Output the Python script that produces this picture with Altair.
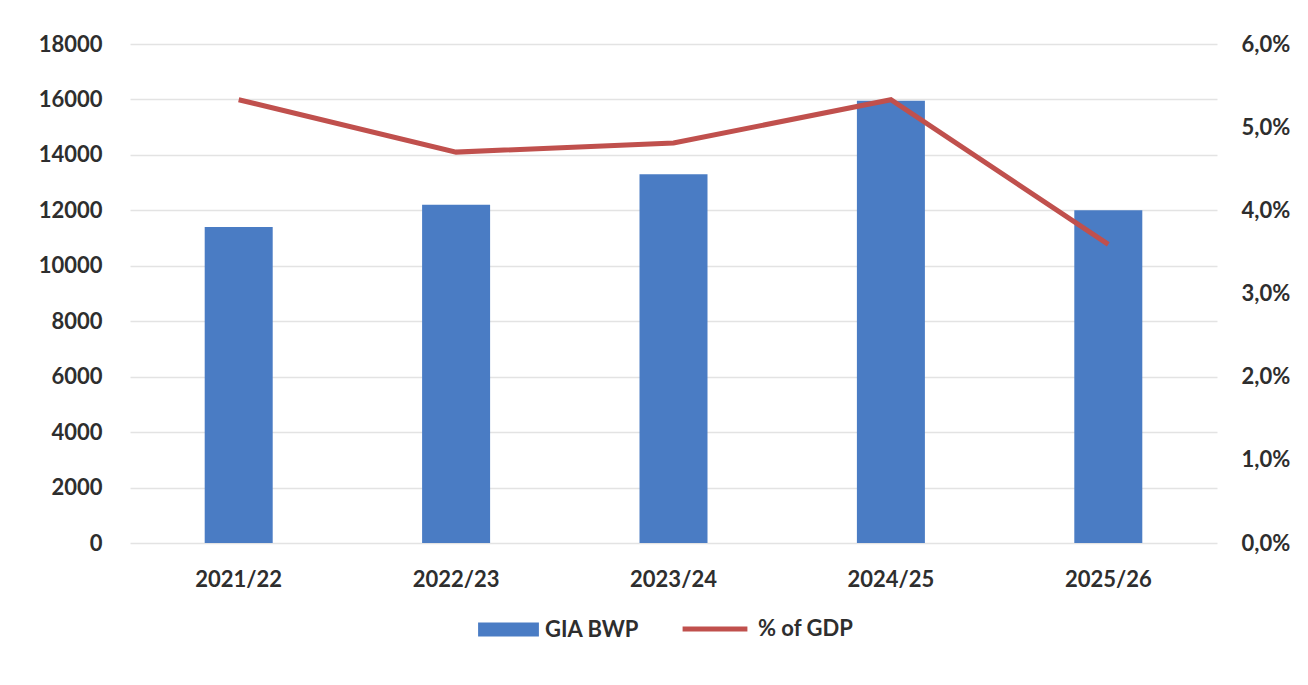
import altair as alt
import pandas as pd

years = ["2021/22", "2022/23", "2023/24", "2024/25", "2025/26"]
gia_bwp = [11400, 12200, 13300, 15950, 12000]
pct_gdp = [5.33, 4.70, 4.81, 5.33, 3.59]

df = pd.DataFrame({
    "year": years,
    "gia": gia_bwp,
    "pct": pct_gdp,
    "s1": ["GIA BWP"] * len(years),
    "s2": ["% of GDP"] * len(years),
})

FONT = "Lato"
TXT = "#2e2e2e"
BLUE = "#4a7cc4"
RED = "#c0504d"
FS = 22
FW = "bold"

x_enc = alt.X("year:N", sort=years, title=None,
              axis=alt.Axis(labelAngle=0, labelFontSize=FS, labelFont=FONT, labelColor=TXT,
                            labelFontWeight=FW,
                            ticks=False, domain=False, labelPadding=26, grid=False))

bars = alt.Chart(df).mark_bar(size=68).encode(
    x=x_enc,
    y=alt.Y("gia:Q", title=None,
            scale=alt.Scale(domain=[0, 18000], nice=False),
            axis=alt.Axis(values=list(range(0, 18001, 2000)), format="d", ticks=False, domain=False,
                          labelFontSize=FS, labelFont=FONT, labelColor=TXT, labelFontWeight=FW,
                          labelPadding=28, gridColor="#e3e3e3", gridWidth=1.5)),
    color=alt.Color("s1:N", scale=alt.Scale(domain=["GIA BWP"], range=[BLUE]),
                    legend=alt.Legend(title=None, orient="none", legendX=348, legendY=555,
                                      symbolType="M-1,-0.23H1V0.23H-1Z", symbolSize=3700,
                                      symbolStrokeWidth=0, labelFontSize=FS, labelFont=FONT,
                                      labelFontWeight=FW,
                                      labelColor=TXT, padding=0, labelOffset=6)),
)

line = alt.Chart(df).mark_line(strokeWidth=5).encode(
    x=x_enc,
    y=alt.Y("pct:Q", title=None,
            scale=alt.Scale(domain=[0, 6], nice=False),
            axis=alt.Axis(orient="right", values=[0, 1, 2, 3, 4, 5, 6], grid=False, ticks=False,
                          domain=False, labelFontSize=FS, labelFont=FONT, labelColor=TXT,
                          labelFontWeight=FW, labelPadding=24,
                          labelExpr="replace(format(datum.value, '.1f'), '.', ',') + '%'")),
    stroke=alt.Stroke("s2:N", scale=alt.Scale(domain=["% of GDP"], range=[RED]),
                      legend=alt.Legend(title=None, orient="none", legendX=550, legendY=550,
                                        symbolType="stroke", symbolSize=4200, symbolStrokeWidth=5,
                                        labelFontSize=FS, labelFont=FONT, labelColor=TXT,
                                        labelFontWeight=FW, padding=0, labelOffset=8)),
)

chart = alt.layer(bars, line).resolve_scale(y="independent").properties(
    width=1087, height=499,
    autosize=alt.AutoSizeParams(type="none"),
    padding={"left": 122, "top": 36, "right": 83, "bottom": 142},
).configure(background="white").configure_view(stroke=None)

chart.save("out.html", embed_options={"renderer": "svg", "actions": False})
